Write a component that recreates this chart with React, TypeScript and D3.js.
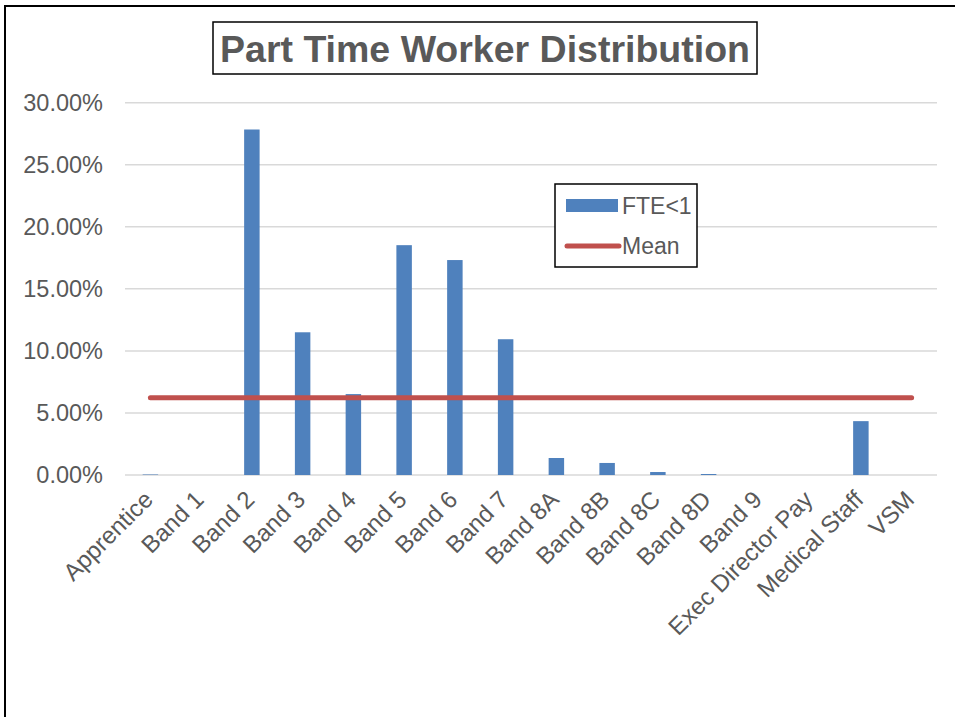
import React from "react";
import * as d3 from "d3";

const categories = [
  "Apprentice", "Band 1", "Band 2", "Band 3", "Band 4", "Band 5", "Band 6", "Band 7",
  "Band 8A", "Band 8B", "Band 8C", "Band 8D", "Band 9", "Exec Director Pay", "Medical Staff", "VSM",
];
const fteValues = [0.0004, 0, 0.2784, 0.115, 0.0652, 0.1852, 0.1732, 0.1094, 0.0137, 0.0097, 0.0024, 0.0008, 0, 0, 0.0434, 0];
const meanValue = 0.0623;
const yTicks = [0, 0.05, 0.1, 0.15, 0.2, 0.25, 0.3];
const title = "Part Time Worker Distribution";
const legendLabels = ["FTE<1", "Mean"];

const W = 955;
const H = 717;
const FONT = "Liberation Sans, Arial, sans-serif";
const TEXT = "#595959";
const BLUE = "#4F81BD";
const RED = "#C0504D";
const GRID = "#D9D9D9";

export default function App() {
  const plotLeft = 125;
  const plotRight = 937;
  const x = d3.scaleBand<string>().domain(categories).range([plotLeft, plotRight]).padding(0);
  const y = d3.scaleLinear().domain([0, 0.3]).range([475, 102.7]);
  const fmt = d3.format(".2%");
  const catCenter = (c: string) => (x(c) as number) + x.bandwidth() / 2;
  const barW = x.bandwidth() * 0.305;

  return (
    <svg width={W} height={H} style={{ position: "absolute", left: 0, top: 0, background: "#fff" }} fontFamily={FONT}>
      <rect x={0} y={0} width={W} height={H} fill="#fff" />
      <rect x={5} y={6} width={1100} height={900} fill="none" stroke="#000" strokeWidth={2} />

      {yTicks.map((t) => (
        <line key={t} x1={plotLeft} x2={plotRight} y1={y(t)} y2={y(t)} stroke={GRID} strokeWidth={1.5} />
      ))}
      {yTicks.map((t) => (
        <text key={"l" + t} x={103} y={y(t)} dy="0.36em" textAnchor="end" fontSize={23.5} fill={TEXT}>
          {fmt(t)}
        </text>
      ))}

      {categories.map((c, i) => {
        const v = fteValues[i];
        if (v <= 0) return null;
        const cx = catCenter(c);
        return <rect key={c} x={cx - barW / 2} y={y(v)} width={barW} height={y(0) - y(v)} fill={BLUE} />;
      })}

      <line
        x1={catCenter(categories[0])}
        x2={catCenter(categories[categories.length - 1])}
        y1={y(meanValue)}
        y2={y(meanValue)}
        stroke={RED}
        strokeWidth={5}
        strokeLinecap="round"
      />

      {categories.map((c) => (
        <text
          key={"x" + c}
          transform={`translate(${catCenter(c) + 4},${501}) rotate(-45)`}
          textAnchor="end"
          fontSize={24}
          fill={TEXT}
        >
          {c}
        </text>
      ))}

      <rect x={213} y={22} width={544} height={52} fill="#fff" stroke="#000" strokeWidth={1.5} />
      <text x={485} y={48} dy="0.36em" textAnchor="middle" fontSize={37.5} fontWeight="bold" fill={TEXT}>
        {title}
      </text>

      <rect x={555} y={184} width={142} height={83} fill="#fff" stroke="#000" strokeWidth={1.5} />
      <rect x={566} y={199} width={52} height={13} fill={BLUE} />
      <text x={622} y={205.5} dy="0.36em" fontSize={23} fill={TEXT}>{legendLabels[0]}</text>
      <line x1={567} x2={619} y1={246} y2={246} stroke={RED} strokeWidth={5} strokeLinecap="round" />
      <text x={622} y={246} dy="0.36em" fontSize={23} fill={TEXT}>{legendLabels[1]}</text>
    </svg>
  );
}
